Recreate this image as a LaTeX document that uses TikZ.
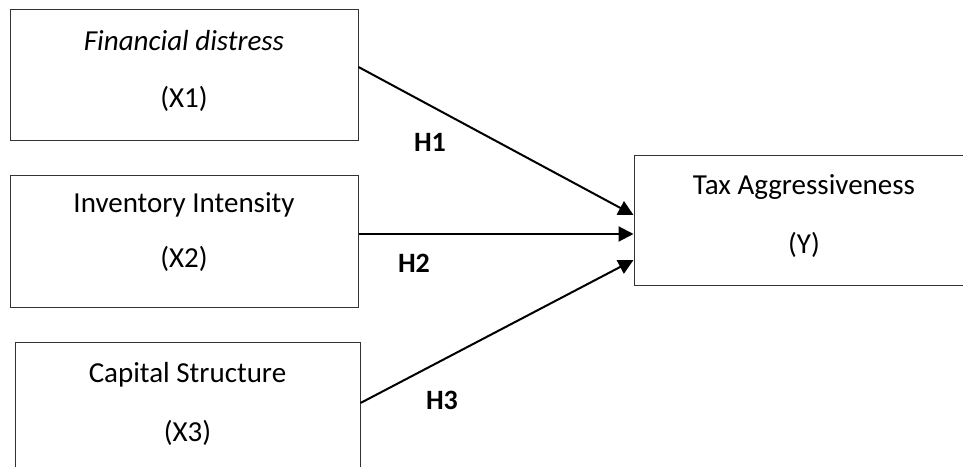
\documentclass[tikz,border=0pt]{standalone}
\usepackage{fontspec}
\setmainfont{Carlito}
\usetikzlibrary{arrows.meta}
\tikzset{
    block/.style = {draw=black!80, rectangle, line width=0.5pt,
        minimum height=65.5pt, text depth=6pt,
        align=center, font=\fontsize{14.5}{17.5}\selectfont},
    arrow/.style = {draw, line width=1pt, -{Triangle[length=7.5pt,width=7.5pt]}},
    hyp/.style = {font=\fontsize{14}{17}\selectfont\bfseries}
}
\begin{document}
\begin{tikzpicture}[x=0.5pt,y=-0.5pt]
    \useasboundingbox (0,0) rectangle (963,466);
    \clip (0,0) rectangle (963,466);
    % independent variables
    \node [block, minimum width=174pt] (fd) at (184,75) {\textit{Financial distress}\\[11pt](X1)};
    \node [block, minimum width=174pt, minimum height=66pt, text depth=10.5pt] (ii) at (184,241) {Inventory Intensity\\[10pt](X2)};
    \node [block, minimum width=172.5pt, minimum height=66pt] (cs) at (187.5,408) {Capital Structure\\[12pt](X3)};
    % dependent variable
    \node [block, minimum width=170pt, minimum height=65pt] (ta) at (804,220) {Tax Aggressiveness\\[12pt](Y)};
    % hypotheses
    \draw [arrow] ([yshift=4pt]fd.east) -- ([yshift=2.5pt]ta.west);
    \draw [arrow] ([yshift=3.5pt]ii.east) -- ([yshift=-7pt]ta.west);
    \draw [arrow] ([yshift=2.5pt]cs.east) -- ([yshift=-20pt]ta.west);
    \node [hyp] (h1) at (430,142) {H1};
    \node [hyp] (h2) at (414,263) {H2};
    \node [hyp] (h3) at (442,400) {H3};
\end{tikzpicture}
\end{document}
